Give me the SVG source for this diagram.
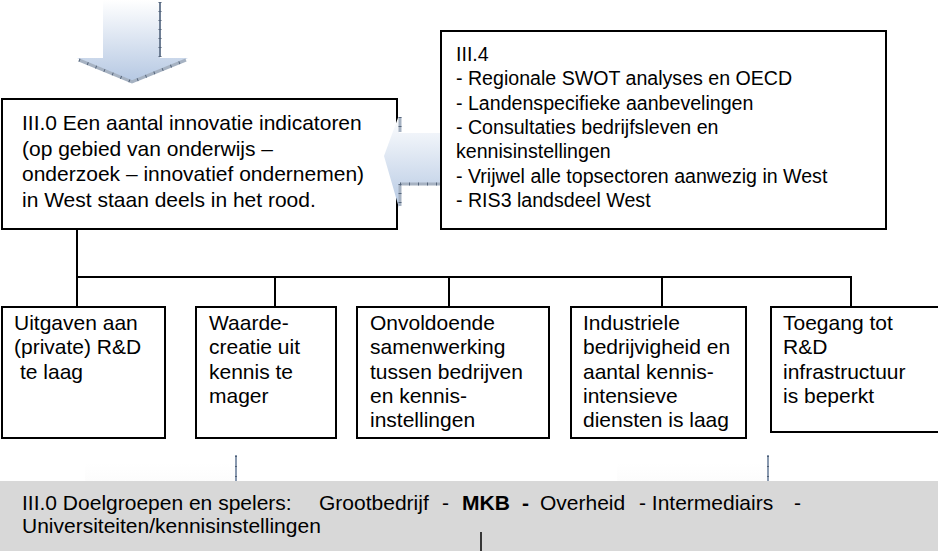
<svg xmlns="http://www.w3.org/2000/svg" width="938" height="551" viewBox="0 0 938 551">
  <defs>
    <linearGradient id="gDown" x1="0" y1="0" x2="0" y2="1">
      <stop offset="0" stop-color="#ffffff"/>
      <stop offset="1" stop-color="#b4c7e2"/>
    </linearGradient>
    <linearGradient id="gLeft" x1="0" y1="0" x2="0" y2="1">
      <stop offset="0" stop-color="#ffffff"/>
      <stop offset="1" stop-color="#b6c9e3"/>
    </linearGradient>
    <linearGradient id="gFaint" x1="0" y1="0" x2="0" y2="1">
      <stop offset="0" stop-color="#ffffff"/>
      <stop offset="1" stop-color="#fcfcfc"/>
    </linearGradient>
  </defs>
  <style>
    .box { fill: #ffffff; stroke: #000000; stroke-width: 2; }
    .t { font-family: "Liberation Sans", Arial, sans-serif; font-size: 21px; fill: #000000; }
    .t4 { font-family: "Liberation Sans", Arial, sans-serif; font-size: 19.6px; fill: #000000; }
    .b { font-weight: bold; }
    .conn { stroke: #000000; stroke-width: 2; fill: none; }
    .hatch { stroke: #a6b2c2; stroke-width: 3; fill: none; }
    .tick { stroke: #56667c; stroke-width: 3; fill: none; stroke-dasharray: 1 8; }
    .edge { stroke: #6e7e94; stroke-width: 2; fill: none; }
  </style>

  <!-- Top down arrow -->
  <g id="arrow-top">
    <path d="M103,0 L160,0 L160,58 L188,58 L132,83 L77,58 L103,58 Z" fill="url(#gDown)"/>
    <path class="hatch" d="M79,60 L132,82 L186,60"/>
    <path class="tick" d="M79,60 L132,82 L186,60"/>
    <line class="edge" x1="160" y1="2" x2="160" y2="57"/>
    <line class="tick" x1="160" y1="2" x2="160" y2="57" stroke-width="2"/>
  </g>

  <!-- Main box -->
  <g id="node-main">
    <rect class="box" x="2" y="99" width="395" height="130"/>
    <text class="t" x="22" y="130">III.0 Een aantal innovatie indicatoren</text>
    <text class="t" x="22" y="155.5">(op gebied van onderwijs –</text>
    <text class="t" x="22" y="181">onderzoek – innovatief ondernemen)</text>
    <text class="t" x="22" y="206.5">in West staan deels in het rood.</text>
  </g>

  <!-- Left arrow -->
  <g id="arrow-left">
    <path d="M442,133 L399,133 L399,115 L384,156 L399,208 L399,184 L442,184 Z" fill="url(#gLeft)"/>
    <path class="hatch" d="M400,117 L400,132"/>
    <path class="hatch" d="M400,184 L400,206"/>
    <path class="hatch" d="M400,184 L441,184"/>
    <path class="tick" d="M400,184 L441,184"/>
    <path class="tick" d="M400,117 L400,132"/>
    <path class="tick" d="M400,184 L400,206"/>
  </g>

  <!-- III.4 box -->
  <g id="node-III4">
    <rect class="box" x="441" y="31" width="445" height="198"/>
    <text class="t4" x="456" y="61">III.4</text>
    <text class="t4" x="456" y="85.3">- Regionale SWOT analyses en OECD</text>
    <text class="t4" x="456" y="109.6">- Landenspecifieke aanbevelingen</text>
    <text class="t4" x="456" y="134">- Consultaties bedrijfsleven en</text>
    <text class="t4" x="456" y="158.3">kennisinstellingen</text>
    <text class="t4" x="456" y="182.6">- Vrijwel alle topsectoren aanwezig in West</text>
    <text class="t4" x="456" y="207">- RIS3 landsdeel West</text>
  </g>

  <!-- Connectors -->
  <g id="connectors">
    <path class="conn" d="M77,229 L77,307"/>
    <path class="conn" d="M76,277 L852,277"/>
    <path class="conn" d="M275,277 L275,307"/>
    <path class="conn" d="M449,277 L449,307"/>
    <path class="conn" d="M662,277 L662,307"/>
    <path class="conn" d="M851,277 L851,307"/>
  </g>

  <!-- Bottom boxes -->
  <g id="node-1">
    <rect class="box" x="2" y="307" width="163" height="131"/>
    <text class="t" x="14" y="330">Uitgaven aan</text>
    <text class="t" x="14" y="354.3">(private) R&amp;D</text>
    <text class="t" x="20" y="378.6">te laag</text>
  </g>
  <g id="node-2">
    <rect class="box" x="196" y="307" width="140" height="131"/>
    <text class="t" x="209" y="330">Waarde-</text>
    <text class="t" x="209" y="354.3">creatie uit</text>
    <text class="t" x="209" y="378.6">kennis te</text>
    <text class="t" x="209" y="403">mager</text>
  </g>
  <g id="node-3">
    <rect class="box" x="357" y="307" width="192" height="131"/>
    <text class="t" x="370" y="330">Onvoldoende</text>
    <text class="t" x="370" y="354.3">samenwerking</text>
    <text class="t" x="370" y="378.6">tussen bedrijven</text>
    <text class="t" x="370" y="403">en kennis-</text>
    <text class="t" x="370" y="427.3">instellingen</text>
  </g>
  <g id="node-4">
    <rect class="box" x="571" y="307" width="175" height="131"/>
    <text class="t" x="583" y="330">Industriele</text>
    <text class="t" x="583" y="354.3">bedrijvigheid en</text>
    <text class="t" x="583" y="378.6">aantal kennis-</text>
    <text class="t" x="583" y="403">intensieve</text>
    <text class="t" x="583" y="427.3">diensten is laag</text>
  </g>
  <g id="node-5">
    <rect class="box" x="771" y="307" width="180" height="125"/>
    <text class="t" x="783" y="330">Toegang tot</text>
    <text class="t" x="783" y="354.3">R&amp;D</text>
    <text class="t" x="783" y="378.6">infrastructuur</text>
    <text class="t" x="783" y="403">is beperkt</text>
  </g>

  <!-- Faint arrow remnants above the band -->
  <g id="arrow-remnants">
    <rect x="85" y="463" width="151" height="18" fill="url(#gFaint)"/>
    <rect x="617" y="463" width="151" height="18" fill="url(#gFaint)"/>
    <line x1="236" y1="455" x2="236" y2="481" stroke="#8a9ab0" stroke-width="2"/>
    <line x1="236" y1="456" x2="236" y2="481" stroke="#4f5f75" stroke-width="2" stroke-dasharray="1 9"/>
    <line x1="768" y1="455" x2="768" y2="481" stroke="#8a9ab0" stroke-width="2"/>
    <line x1="768" y1="456" x2="768" y2="481" stroke="#4f5f75" stroke-width="2" stroke-dasharray="1 9"/>
  </g>

  <!-- Bottom band -->
  <g id="node-doelgroepen">
    <rect x="0" y="481" width="938" height="70" fill="#d8d8d8"/>
    <text class="t" y="510"><tspan x="22">III.0 Doelgroepen en spelers:</tspan><tspan x="319">Grootbedrijf</tspan><tspan x="442">-</tspan><tspan x="462" class="b">MKB</tspan><tspan x="522" class="b">-</tspan><tspan x="540">Overheid</tspan><tspan x="639">- Intermediairs</tspan><tspan x="794">-</tspan></text>
    <text class="t" x="22" y="533">Universiteiten/kennisinstellingen</text>
    <line x1="481" y1="532" x2="481" y2="551" stroke="#000000" stroke-width="1.5"/>
  </g>
</svg>
